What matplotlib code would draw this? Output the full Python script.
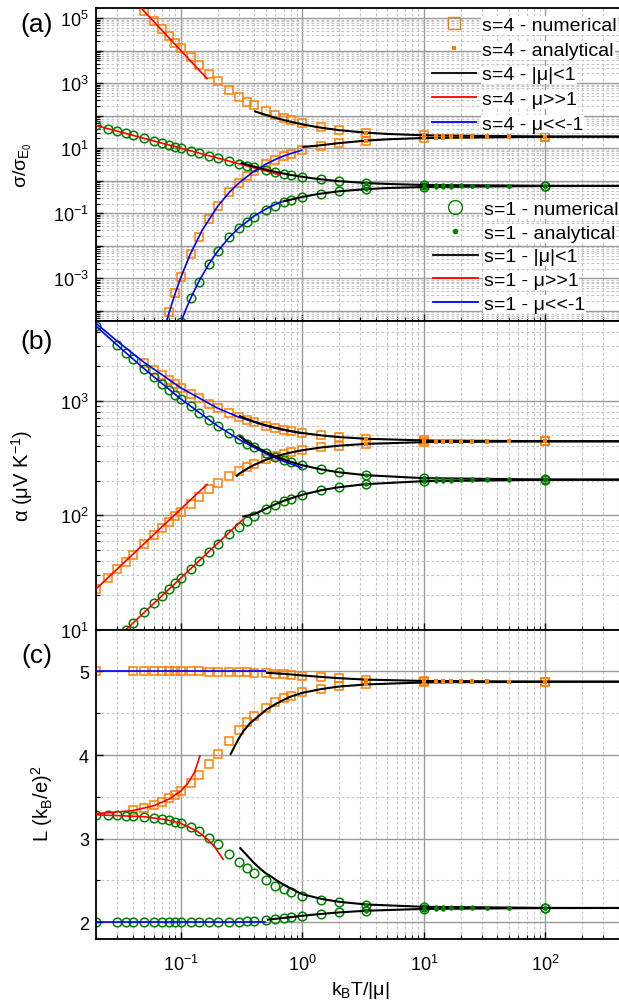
import numpy as np
import matplotlib
matplotlib.use('Agg')
import matplotlib.pyplot as plt
from matplotlib.ticker import LogLocator, MultipleLocator, FuncFormatter, NullFormatter
from matplotlib.lines import Line2D

plt.rcParams['font.family'] = ['Liberation Sans', 'DejaVu Sans']
plt.rcParams['mathtext.fontset'] = 'custom'
plt.rcParams['mathtext.rm'] = 'Liberation Sans'
plt.rcParams['mathtext.it'] = 'Liberation Sans:italic'
plt.rcParams['mathtext.bf'] = 'Liberation Sans:bold'

nan = np.nan
ORANGE = '#FF8000'
GREEN = '#008000'

# ---------------- data ----------------
x_num = [0.02, 0.025, 0.03, 0.035, 0.04, 0.05, 0.06, 0.07, 0.08, 0.09, 0.1, 0.12, 0.14, 0.17,
         0.2, 0.25, 0.3, 0.35, 0.4, 0.5, 0.6, 0.7, 0.8, 1.0, 1.43, 2.0, 3.33, 10, 100]
x_ana = [12.5, 14.3, 16.7, 20, 25, 33.3, 50]

# (a) sigma / sigma_E0
sig4_pos = [nan, nan, nan, nan, nan, 1.68e5, 8.27e4, 4.57e4, 2.75e4, 1.77e4, 1.20e4, 6239, 3656, 1926,
            1164, 616.8, 387.4, 271.8, 205.9, 137.2, 103.5, 84.2, 72.0, 57.6, 43.8, 36.4, 30.2, 25.0, 22.9]
sig4_neg = [nan, nan, nan, nan, nan, nan, nan, nan, 8.94e-5, 3.59e-4, 1.09e-3, 5.78e-3, 0.0190, 0.0669,
            0.162, 0.439, 0.854, 1.374, 1.960, 3.221, 4.482, 5.671, 6.759, 8.639, 11.58, 14.06, 17.06, 20.66, 22.51]
sig1_pos = [50, 40, 33.33, 28.57, 25, 20, 16.67, 14.29, 12.5, 11.11, 10.0, 8.333, 7.144, 5.885,
            5.007, 4.018, 3.369, 2.916, 2.579, 2.127, 1.842, 1.645, 1.502, 1.313, 1.103, 0.974, 0.854, 0.744, 0.698]
sig1_neg = [nan, nan, nan, nan, nan, nan, nan, nan, nan, nan, 4.54e-5, 2.41e-4, 7.93e-4, 2.79e-3,
            6.72e-3, 0.0182, 0.0351, 0.0558, 0.0789, 0.1269, 0.1731, 0.2149, 0.2519, 0.3133, 0.4032, 0.4741, 0.5543, 0.6444, 0.6882]
sig4_pos_ana = [24.52, 24.28, 24.06, 23.81, 23.60, 23.38, 23.16]
sig4_neg_ana = [21.06, 21.26, 21.46, 21.67, 21.88, 22.08, 22.30]
sig1_pos_ana = [0.734, 0.729, 0.724, 0.719, 0.713, 0.708, 0.703]
sig1_neg_ana = [0.654, 0.659, 0.664, 0.669, 0.673, 0.678, 0.683]

a_red4_x = [0.045, 0.05, 0.07, 0.1, 0.13, 0.166]
a_red4_y = [2.44e5, 1.6e5, 4.165e4, 1.0e4, 3501, 1317]
a_red1_x = [0.02, 0.05, 0.1, 0.2, 0.4, 0.665]
a_red1_y = [50, 20, 10, 5, 2.5, 1.504]
a_blue4_x = [0.076, 0.08, 0.09, 0.1, 0.12, 0.15, 0.2, 0.25, 0.3, 0.4, 0.5, 0.6, 0.7, 0.8, 1.0]
a_blue4_y = [4.6e-5, 8.94e-5, 3.59e-4, 1.09e-3, 5.78e-3, 0.0306, 0.1617, 0.4396, 0.856, 1.970, 3.248, 4.533, 5.753, 6.876, 8.829]
a_blue1_x = [0.101, 0.11, 0.12, 0.14, 0.17, 0.2, 0.25, 0.3, 0.4, 0.5, 0.6, 0.686]
a_blue1_y = [5.0e-5, 1.13e-4, 2.41e-4, 7.9e-4, 2.79e-3, 6.74e-3, 0.0183, 0.0357, 0.0821, 0.1353, 0.1889, 0.2328]
a_blk4p_x = [0.4, 0.5, 0.6, 0.7, 0.8, 1.0, 1.25, 1.43, 2, 3.33, 5, 10, 100, 450]
a_blk4p_y = [138.5, 105.5, 86.2, 73.8, 65.2, 54.2, 46.4, 42.7, 36.0, 30.1, 27.5, 25.0, 22.95, 22.78]
a_blk4n_x = [1.0, 1.25, 1.43, 2, 3.33, 5, 10, 100, 450]
a_blk4n_y = [10.96, 11.74, 12.42, 14.38, 17.13, 18.80, 20.67, 22.51, 22.68]
a_blk1p_x = [0.31, 0.35, 0.4, 0.5, 0.6, 0.7, 0.8, 1.0, 1.25, 1.43, 2, 3.33, 5, 10, 100, 450]
a_blk1p_y = [3.607, 3.142, 2.724, 2.193, 1.874, 1.662, 1.513, 1.318, 1.173, 1.104, 0.974, 0.854, 0.798, 0.744, 0.698, 0.694]
a_blk1n_x = [0.686, 0.8, 1.0, 1.25, 1.43, 2, 3.33, 5, 10, 100, 450]
a_blk1n_y = [0.230, 0.263, 0.318, 0.373, 0.404, 0.474, 0.554, 0.598, 0.644, 0.688, 0.692]

# (b) alpha (uV/K)
alp4_pos = [22.63, 28.25, 33.84, 39.40, 44.94, 55.88, 66.65, 77.21, 87.52, 97.58, 107.38, 126.12, 143.66, 167.75,
            189.23, 219.80, 244.82, 265.38, 282.41, 308.74, 327.94, 342.46, 353.77, 370.22, 390.85, 405.09, 419.72, 434.65, 441.50]
alp4_neg = [nan, nan, nan, nan, nan, 2154.3, 1867.0, 1661.9, 1508.0, 1388.3, 1292.6, 1148.9, 1046.4, 937.8,
            861.8, 775.8, 718.6, 677.8, 647.4, 605.0, 576.8, 556.8, 542.2, 521.7, 497.3, 481.3, 465.5, 450.0, 443.0]
alp1_pos = [nan, nan, nan, 9.92, 11.34, 14.18, 17.01, 19.84, 22.68, 25.51, 28.34, 33.99, 39.60, 47.85,
            55.81, 68.21, 79.36, 89.25, 97.96, 112.38, 123.67, 132.64, 139.90, 150.87, 165.31, 175.72, 186.77, 198.43, 203.88]
alp1_neg = [4481, nan, 3045, 2634, 2327, 1896, 1609, 1403, 1250, 1130, 1034, 890.4, 787.9, 679.3,
            603.5, 517.8, 461.1, 421.0, 391.2, 350.2, 323.6, 304.9, 291.2, 272.5, 250.8, 236.9, 223.5, 210.7, 205.1]
alp4_pos_ana = [436.1, 436.9, 437.7, 438.4, 439.2, 440.0, 440.7]
alp4_neg_ana = [448.4, 447.6, 446.9, 446.1, 445.3, 444.6, 443.8]
alp1_pos_ana = [199.6, 200.2, 200.9, 201.5, 202.1, 202.7, 203.3]
alp1_neg_ana = [209.5, 208.8, 208.2, 207.6, 207.0, 206.4, 205.7]

b_blue_x = [0.02, 0.03, 0.05, 0.1, 0.2, 0.3, 0.5, 0.7, 1.0]
b_blue1_y = [4481, 3045, 1896, 1034, 603.2, 459.6, 344.7, 295.4, 258.5]
b_blue4_y = [4739, 3303, 2154, 1293, 861.7, 718.1, 603.2, 553.9, 517.0]
b_red1_x = [0.034, 0.05, 0.1, 0.2, 0.327]
b_red1_y = [9.64, 14.18, 28.35, 56.70, 92.7]
b_red4_x = [0.02, 0.05, 0.1, 0.166]
b_red4_y = [22.68, 56.70, 113.4, 188.2]
b_blk4p_x = [0.284, 0.3, 0.35, 0.4, 0.5, 0.6, 0.7, 0.8, 1.0, 1.43, 2, 3.33, 10, 100, 450]
b_blk4p_y = [218, 229.5, 254.7, 274.8, 304.5, 325.4, 340.8, 352.6, 369.6, 390.6, 405.0, 419.7, 434.8, 441.5, 442.1]
b_blk4n_x = [0.30, 0.35, 0.4, 0.5, 0.6, 0.7, 0.8, 1.0, 1.43, 2, 3.33, 10, 100, 450]
b_blk4n_y = [739.3, 691.7, 657.1, 610.4, 580.2, 559.2, 543.8, 522.5, 497.7, 481.4, 465.5, 449.8, 443.0, 442.4]
b_blk1p_x = [0.32, 0.4, 0.5, 0.6, 0.7, 0.8, 1.0, 1.43, 2, 3.33, 10, 100, 450]
b_blk1p_y = [97, 102, 114, 124.8, 133.3, 140.2, 151.0, 165.3, 175.7, 186.8, 198.4, 203.9, 204.4]
b_blk1n_x = [0.30, 0.35, 0.4, 0.5, 0.6, 0.7, 0.8, 1.0, 1.43, 2, 3.33, 10, 100, 450]
b_blk1n_y = [494, 439.9, 403.9, 356.7, 327.2, 307.2, 292.7, 273.2, 251.0, 237.0, 223.6, 210.7, 205.1, 204.6]

# (c) Lorenz number
L4_pos = [nan, nan, nan, nan, 3.339, 3.366, 3.398, 3.435, 3.482, 3.522, 3.569, 3.664, 3.757, 3.890,
          4.008, 4.173, 4.299, 4.395, 4.467, 4.569, 4.634, 4.678, 4.709, 4.751, 4.795, 4.823, 4.846, 4.869, 4.877]
L4_neg = [5.0, nan, nan, nan, 5.0, 5.0, 5.0, 5.0, 5.0, 5.0, 5.0, 5.0, 5.0, 4.999,
          4.998, 4.997, 4.994, 4.991, 4.988, 4.979, 4.972, 4.965, 4.959, 4.948, 4.933, 4.920, 4.903, 4.887, 4.879]
L1_pos = [3.286, 3.283, 3.280, 3.276, 3.272, 3.263, 3.251, 3.237, 3.221, 3.204, 3.182, 3.138, 3.088, 3.009,
          2.934, 2.820, 2.726, 2.649, 2.589, 2.500, 2.439, 2.396, 2.364, 2.320, 2.271, 2.240, 2.211, 2.185, 2.172]
L1_neg = [2.0, nan, 2.0, 2.0, 2.0, 2.0, 2.0, 2.0, 2.0, 2.0, 2.0, 2.0, 2.0, 2.001,
          2.002, 2.004, 2.009, 2.014, 2.020, 2.032, 2.043, 2.054, 2.063, 2.078, 2.101, 2.118, 2.138, 2.160, 2.170]
L4_pos_ana = [4.871, 4.872, 4.873, 4.874, 4.875, 4.875, 4.876]
L4_neg_ana = [4.885, 4.884, 4.883, 4.882, 4.881, 4.881, 4.880]
L1_pos_ana = [2.182, 2.181, 2.179, 2.178, 2.177, 2.175, 2.174]
L1_neg_ana = [2.162, 2.163, 2.165, 2.166, 2.167, 2.168, 2.169]

c_blue_x = [0.02, 0.5]
c_blue4_y = [5.0, 5.0]
c_blue1_y = [2.0, 2.0]
c_red4_x = [0.02, 0.04, 0.06, 0.08, 0.1, 0.115, 0.13, 0.144]
c_red4_y = [3.30, 3.335, 3.395, 3.475, 3.57, 3.67, 3.80, 4.0]
c_red1_x = [0.02, 0.05, 0.075, 0.1, 0.135, 0.165, 0.19, 0.2245]
c_red1_y = [3.286, 3.263, 3.229, 3.182, 3.093, 2.995, 2.899, 2.745]
c_blk4p_x = [0.2545, 0.28, 0.3, 0.328, 0.37, 0.4227, 0.5, 0.6, 0.7, 0.8, 1.0, 1.43, 2, 3.33, 10, 100, 450]
c_blk4p_y = [4.003, 4.12, 4.20, 4.29, 4.38, 4.45, 4.54, 4.61, 4.66, 4.70, 4.745, 4.79, 4.82, 4.845, 4.869, 4.877, 4.878]
c_blk4n_x = [0.5, 0.7, 1.0, 1.43, 2, 3.33, 10, 100, 450]
c_blk4n_y = [4.985, 4.972, 4.953, 4.935, 4.92, 4.903, 4.887, 4.879, 4.878]
c_blk1p_x = [0.304, 0.35, 0.396, 0.45, 0.5, 0.543, 0.6, 0.7, 0.8, 1.0, 1.43, 2, 3.33, 10, 100, 450]
c_blk1p_y = [2.895, 2.80, 2.715, 2.64, 2.585, 2.555, 2.51, 2.45, 2.405, 2.335, 2.28, 2.245, 2.213, 2.185, 2.172, 2.171]
c_blk1n_x = [0.51, 0.7, 1.0, 1.43, 2, 3.33, 10, 100, 450]
c_blk1n_y = [2.03, 2.052, 2.078, 2.10, 2.118, 2.138, 2.160, 2.170, 2.171]

legend_labels_4 = ['s=4 - numerical', 's=4 - analytical', 's=4 - |μ|<1', 's=4 - μ>>1', 's=4 - μ<<-1']
legend_labels_1 = ['s=1 - numerical', 's=1 - analytical', 's=1 - |μ|<1', 's=1 - μ>>1', 's=1 - μ<<-1']

# ---------------- figure ----------------
W_PX, H_PX = 619, 1004
fig = plt.figure(figsize=(W_PX / 100, H_PX / 100), dpi=100)
left = 96 / W_PX
width = (624.8 - 96) / W_PX
def fy(p):
    return 1 - p / H_PX
ax_a = fig.add_axes([left, fy(321.7), width, (321.7 - 9.3) / H_PX])
ax_b = fig.add_axes([left, fy(630.7), width, (630.7 - 321.7) / H_PX])
ax_c = fig.add_axes([left, fy(940.0), width, (940.0 - 630.7) / H_PX])

ANA_MIN_X = 3.0   # analytical dots are only distinguishable where numerical points are sparse

def draw_curves(ax, num4, ana4, num1, ana1):
    for ys, extra in zip(num4, ana4):
        ax.plot(x_num, ys, ls='none', marker='s', ms=5.8, mfc='none', mec=ORANGE, mew=1.1, zorder=2)
        xs = [x for x in x_num if x >= ANA_MIN_X] + x_ana
        yv = [y for x, y in zip(x_num, ys) if x >= ANA_MIN_X] + list(extra)
        ax.plot(xs, yv, ls='none', marker='s', ms=2.8, color=ORANGE, mew=0, zorder=4)
    for ys, extra in zip(num1, ana1):
        ax.plot(x_num, ys, ls='none', marker='o', ms=6.2, mfc='none', mec=GREEN, mew=1.1, zorder=2)
        xs = [x for x in x_num if x >= ANA_MIN_X] + x_ana
        yv = [y for x, y in zip(x_num, ys) if x >= ANA_MIN_X] + list(extra)
        ax.plot(xs, yv, ls='none', marker='o', ms=3.2, color=GREEN, mew=0, zorder=4)

def line(ax, x, y, c, lw):
    ax.plot(x, y, color=c, lw=lw, zorder=3, solid_capstyle='butt')

# panel a
draw_curves(ax_a, [sig4_pos, sig4_neg], [sig4_pos_ana, sig4_neg_ana],
            [sig1_pos, sig1_neg], [sig1_pos_ana, sig1_neg_ana])
line(ax_a, a_red4_x, a_red4_y, 'red', 1.2)
line(ax_a, a_red1_x, a_red1_y, 'red', 1.2)
line(ax_a, a_blue4_x, a_blue4_y, 'blue', 1.2)
line(ax_a, a_blue1_x, a_blue1_y, 'blue', 1.2)
for xx, yy in [(a_blk4p_x, a_blk4p_y), (a_blk4n_x, a_blk4n_y), (a_blk1p_x, a_blk1p_y), (a_blk1n_x, a_blk1n_y)]:
    line(ax_a, xx, yy, 'black', 1.5)

# panel b
draw_curves(ax_b, [alp4_pos, alp4_neg], [alp4_pos_ana, alp4_neg_ana],
            [alp1_pos, alp1_neg], [alp1_pos_ana, alp1_neg_ana])
line(ax_b, b_blue_x, b_blue4_y, 'blue', 1.2)
line(ax_b, b_blue_x, b_blue1_y, 'blue', 1.2)
line(ax_b, b_red4_x, b_red4_y, 'red', 1.2)
line(ax_b, b_red1_x, b_red1_y, 'red', 1.2)
for xx, yy in [(b_blk4p_x, b_blk4p_y), (b_blk4n_x, b_blk4n_y), (b_blk1p_x, b_blk1p_y), (b_blk1n_x, b_blk1n_y)]:
    line(ax_b, xx, yy, 'black', 1.5)

# panel c
draw_curves(ax_c, [L4_pos, L4_neg], [L4_pos_ana, L4_neg_ana],
            [L1_pos, L1_neg], [L1_pos_ana, L1_neg_ana])
line(ax_c, c_blue_x, c_blue4_y, 'blue', 1.2)
line(ax_c, c_blue_x, c_blue1_y, 'blue', 1.2)
line(ax_c, c_red4_x, c_red4_y, 'red', 1.2)
line(ax_c, c_red1_x, c_red1_y, 'red', 1.2)
for xx, yy in [(c_blk4p_x, c_blk4p_y), (c_blk4n_x, c_blk4n_y), (c_blk1p_x, c_blk1p_y), (c_blk1n_x, c_blk1n_y)]:
    line(ax_c, xx, yy, 'black', 1.5)

# ---------------- axes styling ----------------
def pow_fmt(only_odd=False):
    def f(v, pos):
        if v <= 0:
            return ''
        e = int(np.round(np.log10(v)))
        if abs(np.log10(v) - e) > 1e-6:
            return ''
        if only_odd and e % 2 == 0:
            return ''
        return r'$\mathregular{10^{%d}}$' % e
    return FuncFormatter(f)

for ax in (ax_a, ax_b, ax_c):
    ax.set_xscale('log')
    ax.set_xlim(0.02, 450)
    ax.xaxis.set_major_locator(LogLocator(base=10, numticks=20))
    ax.xaxis.set_minor_locator(LogLocator(base=10, subs=np.arange(2, 10), numticks=50))
    ax.xaxis.set_minor_formatter(NullFormatter())
    ax.xaxis.set_major_formatter(pow_fmt())
    ax.set_axisbelow(True)
    ax.grid(True, which='major', color='#9a9a9a', lw=1.0, ls='-')
    ax.grid(True, which='minor', color='#c4c4c4', lw=0.8, ls=(0, (2.5, 2)))
    ax.tick_params(which='both', direction='in', top=False, right=False, labelsize=13, pad=5)
    ax.tick_params(which='major', length=5, width=1.0)
    ax.tick_params(which='minor', length=3, width=0.8)
    for s in ax.spines.values():
        s.set_linewidth(1.3)

ax_a.set_yscale('log')
ax_a.set_ylim(5e-5, 2e5)
ax_a.yaxis.set_major_locator(LogLocator(base=10, numticks=30))
ax_a.yaxis.set_minor_locator(LogLocator(base=10, subs=np.arange(2, 10), numticks=100))
ax_a.yaxis.set_minor_formatter(NullFormatter())
ax_a.yaxis.set_major_formatter(pow_fmt(only_odd=True))

ax_b.set_yscale('log')
ax_b.set_ylim(10, 5000)
ax_b.yaxis.set_major_locator(LogLocator(base=10, numticks=30))
ax_b.yaxis.set_minor_locator(LogLocator(base=10, subs=np.arange(2, 10), numticks=100))
ax_b.yaxis.set_minor_formatter(NullFormatter())
ax_b.yaxis.set_major_formatter(pow_fmt())

ax_c.set_ylim(1.8, 5.5)
ax_c.yaxis.set_major_locator(MultipleLocator(1))
ax_c.yaxis.set_minor_locator(MultipleLocator(0.5))

ax_a.tick_params(axis='x', labelbottom=False)
ax_b.tick_params(axis='x', labelbottom=False)
ax_c.tick_params(axis='x', pad=11)

ax_a.set_ylabel('σ/σ$_{\\mathregular{E_0}}$', fontsize=14)
ax_b.set_ylabel('α (μV K$^{\\mathregular{-1}}$)', fontsize=14.5)
ax_c.set_ylabel('L (k$_{\\mathregular{B}}$/e)$^{\\mathregular{2}}$', fontsize=14.5)
ax_c.set_xlabel('k$_{\\mathregular{B}}$T/|μ|', fontsize=14)
ax_a.yaxis.set_label_coords(-0.118, 0.5)
ax_b.yaxis.set_label_coords(-0.115, 0.5)
ax_c.yaxis.set_label_coords(-0.078, 0.44)
ax_c.xaxis.set_label_coords(0.5, -0.13)

fig.text(37 / W_PX, fy(25), '(a)', fontsize=19, ha='center', va='center')
fig.text(37 / W_PX, fy(342), '(b)', fontsize=19, ha='center', va='center')
fig.text(37 / W_PX, fy(656), '(c)', fontsize=19, ha='center', va='center')

# ---------------- legends ----------------
def make_handles(color, mk, ms_num, ms_ana):
    return [Line2D([], [], ls='none', marker=mk, ms=ms_num, mfc='none', mec=color, mew=1.0),
            Line2D([], [], ls='none', marker=mk, ms=ms_ana, color=color, mew=0),
            Line2D([], [], color='black', lw=1.3),
            Line2D([], [], color='red', lw=1.3),
            Line2D([], [], color='blue', lw=1.3)]

leg_kw = dict(loc='upper left', bbox_transform=fig.transFigure, frameon=False, fontsize=14,
              handlelength=2.3, handletextpad=0.3, borderpad=0, borderaxespad=0)
leg1 = ax_a.legend(make_handles(ORANGE, 's', 9, 3.5), legend_labels_4,
                   bbox_to_anchor=(431.7 / W_PX, fy(17.5)), labelspacing=0.36, **leg_kw)
ax_a.add_artist(leg1)
leg2 = ax_a.legend(make_handles(GREEN, 'o', 10, 4), legend_labels_1,
                   bbox_to_anchor=(433 / W_PX, fy(201.5)), labelspacing=0.31, **leg_kw)
for lg in (leg1, leg2):
    lg.set_zorder(6)
    for t in lg.get_texts():
        t.set_bbox(dict(facecolor='white', edgecolor='none', pad=0.5))

fig.savefig('out.png', dpi=100)
